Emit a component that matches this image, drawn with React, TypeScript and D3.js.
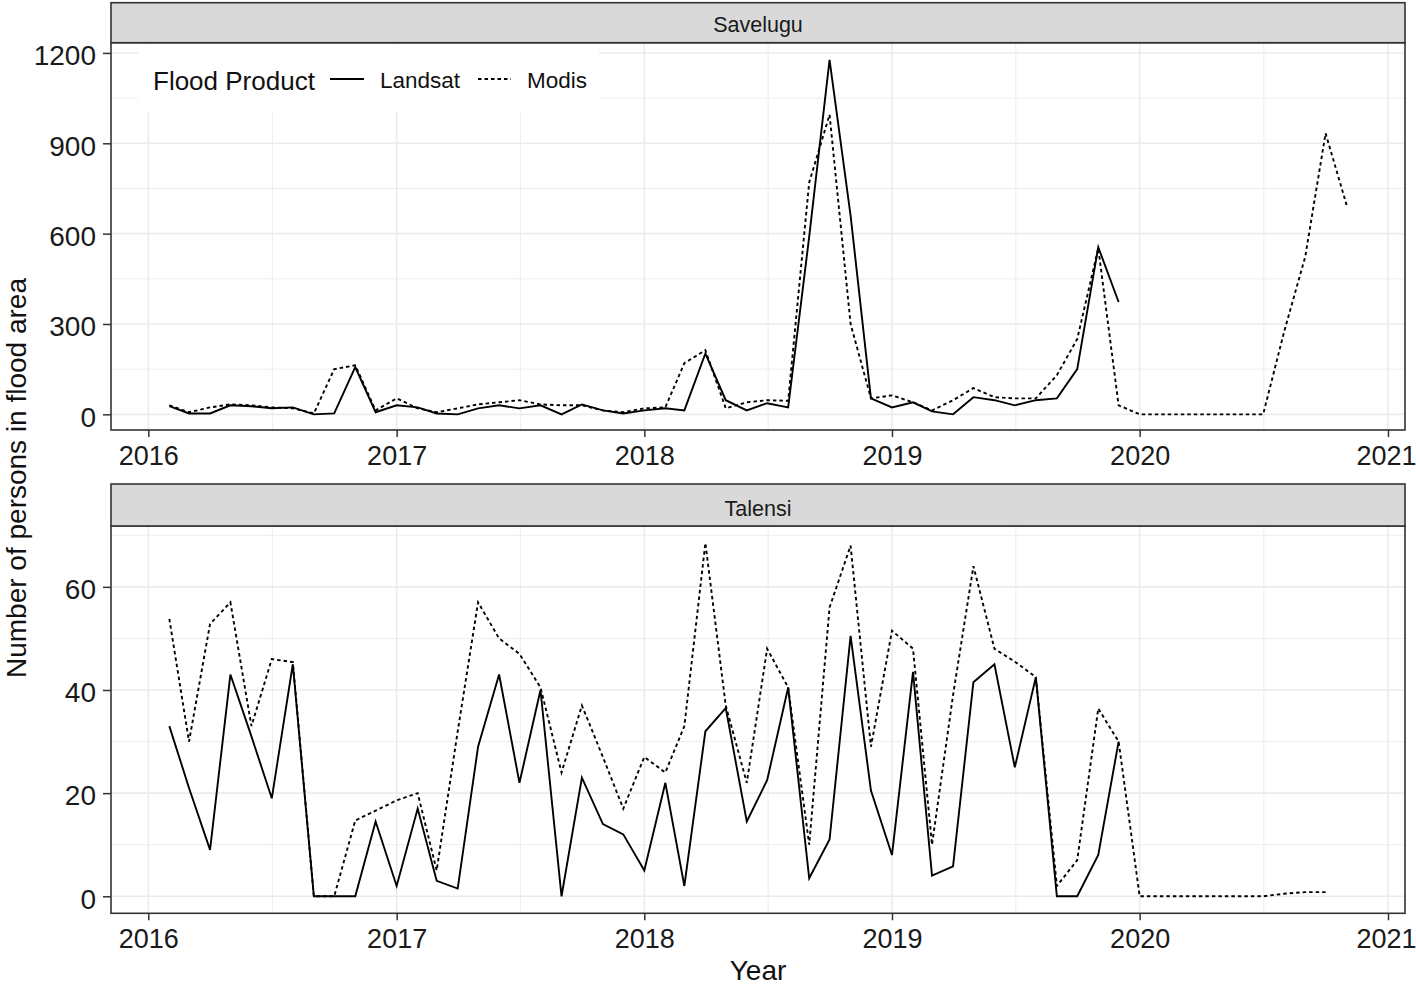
import React, { useEffect, useRef } from "react";
import * as d3 from "d3";

// eixo x (anos) e eixos y de cada painel
const anos = [2016, 2017, 2018, 2019, 2020, 2021];
const savTicks = [0, 300, 600, 900, 1200];
const savMinor = [150, 450, 750, 1050];
const talTicks = [0, 20, 40, 60];
const talMinor = [10, 30, 50, 70];

// valores mensais, a partir de fev/2016
const savLandsat = [
  27, 3, 3, 30, 27, 20, 23, 0, 3, 157, 7,
  30, 23, 3, 0, 20, 30, 20, 30, 0, 33, 13, 3,
  13, 20, 13, 202, 47, 13, 37, 23, 590, 1177, 660, 53,
  23, 40, 10, 0, 57, 47, 30, 47, 53, 150, 555, 373
];
const savModis = [
  30, 7, 23, 33, 30, 23, 20, 3, 150, 163, 13,
  53, 20, 7, 20, 33, 40, 47, 33, 30, 30, 13, 7,
  20, 23, 170, 213, 20, 40, 47, 45, 770, 995, 300, 53,
  63, 40, 13, 47, 87, 57, 53, 53, 130, 250, 552, 30,
  0, 0, 0, 0, 0, 0, 0, 275, 523, 933, 695
];
const talLandsat = [
  33, 21, 9, 43, 31, 19, 45, 0, 0, 0, 14.5,
  2, 17, 3, 1.5, 29, 43, 22, 40, 0, 23, 14, 12,
  5, 22, 2, 32, 36.5, 14.5, 22.5, 40.5, 3.5, 11, 50.5, 20.5,
  8, 43.5, 4, 5.8, 41.5, 45, 25, 42.5, 0, 0, 8, 30
];
const talModis = [
  53.8, 30, 52.8, 57, 33, 46, 45.4, 0, 0, 14.7, 16.6,
  18.6, 20, 5, 32, 57, 50, 47, 40.5, 24, 37, 27, 17,
  27, 24, 33, 68.5, 37, 22, 48, 40.5, 10, 56, 68, 29,
  51.5, 48, 10, 39, 64, 48, 45.5, 42.5, 2, 7, 36.4, 30,
  0, 0, 0, 0, 0, 0, 0, 0.5, 0.8, 0.8
];

const FONT = "'Liberation Sans', Arial, sans-serif";

function App() {
  const ref = useRef(null);

  useEffect(() => {
    const svg = d3.select(ref.current);
    svg.selectAll("*").remove();

    const left = 111;
    const right = 1405;
    const inicio = new Date(2016, 1, 1);

    const x = d3
      .scaleTime()
      .domain([new Date(2016, 0, 1), new Date(2021, 0, 1)])
      .range([148.3, 1388]);

    const serie = (vals) =>
      vals.map((v, i) => ({ d: d3.timeMonth.offset(inicio, i), v }));

    const paineis = [
      {
        nome: "Savelugu",
        stripTop: 2.7,
        stripBottom: 42.7,
        bottom: 430,
        domain: [-52, 1234],
        ticks: savTicks,
        minor: savMinor,
        landsat: savLandsat,
        modis: savModis
      },
      {
        nome: "Talensi",
        stripTop: 484,
        stripBottom: 526,
        bottom: 913.3,
        domain: [-3.3, 71.8],
        ticks: talTicks,
        minor: talMinor,
        landsat: talLandsat,
        modis: talModis
      }
    ];

    paineis.forEach(p => {
      const y = d3
        .scaleLinear()
        .domain(p.domain)
        .range([p.bottom, p.stripBottom]);

      const g = svg.append("g");

      // fundo
      g.append("rect")
        .attr("x", left)
        .attr("y", p.stripBottom)
        .attr("width", right - left)
        .attr("height", p.bottom - p.stripBottom)
        .attr("fill", "#fff");

      // grade menor
      const anoMeio = anos.slice(0, -1).map((a, i) => (x(new Date(a, 0, 1)) + x(new Date(anos[i + 1], 0, 1))) / 2);
      g.selectAll(".vminor")
        .data(anoMeio)
        .join("line")
        .attr("x1", d => d)
        .attr("x2", d => d)
        .attr("y1", p.stripBottom)
        .attr("y2", p.bottom)
        .attr("stroke", "#ebebeb")
        .attr("stroke-width", 0.9);
      g.selectAll(".hminor")
        .data(p.minor)
        .join("line")
        .attr("x1", left)
        .attr("x2", right)
        .attr("y1", d => y(d))
        .attr("y2", d => y(d))
        .attr("stroke", "#ebebeb")
        .attr("stroke-width", 0.9);

      // grade maior
      g.selectAll(".vmajor")
        .data(anos)
        .join("line")
        .attr("x1", d => x(new Date(d, 0, 1)))
        .attr("x2", d => x(new Date(d, 0, 1)))
        .attr("y1", p.stripBottom)
        .attr("y2", p.bottom)
        .attr("stroke", "#ebebeb")
        .attr("stroke-width", 1.6);
      g.selectAll(".hmajor")
        .data(p.ticks)
        .join("line")
        .attr("x1", left)
        .attr("x2", right)
        .attr("y1", d => y(d))
        .attr("y2", d => y(d))
        .attr("stroke", "#ebebeb")
        .attr("stroke-width", 1.6);

      // linhas
      const linha = d3
        .line()
        .x(d => x(d.d))
        .y(d => y(d.v));

      g.append("path")
        .datum(serie(p.modis))
        .attr("d", linha)
        .attr("fill", "none")
        .attr("stroke", "#000")
        .attr("stroke-width", 1.9)
        .attr("stroke-dasharray", "3.5,3");

      g.append("path")
        .datum(serie(p.landsat))
        .attr("d", linha)
        .attr("fill", "none")
        .attr("stroke", "#000")
        .attr("stroke-width", 1.9);

      // borda do painel
      g.append("rect")
        .attr("x", left)
        .attr("y", p.stripBottom)
        .attr("width", right - left)
        .attr("height", p.bottom - p.stripBottom)
        .attr("fill", "none")
        .attr("stroke", "#333")
        .attr("stroke-width", 1.6);

      // faixa
      g.append("rect")
        .attr("x", left)
        .attr("y", p.stripTop)
        .attr("width", right - left)
        .attr("height", p.stripBottom - p.stripTop)
        .attr("fill", "#d9d9d9")
        .attr("stroke", "#333")
        .attr("stroke-width", 1.6);
      g.append("text")
        .attr("x", (left + right) / 2)
        .attr("y", p.stripBottom - 10.5)
        .attr("text-anchor", "middle")
        .attr("font-family", FONT)
        .attr("font-size", 21.5)
        .attr("fill", "#1a1a1a")
        .text(p.nome);

      // eixo y
      const ay = g.append("g")
        .attr("transform", `translate(${left},0)`)
        .call(
          d3.axisLeft(y)
            .tickValues(p.ticks)
            .tickFormat(d3.format("d"))
            .tickSize(8)
            .tickPadding(7)
        );
      ay.select(".domain").remove();
      ay.selectAll("line").attr("stroke", "#333").attr("stroke-width", 1.5);
      ay.selectAll("text")
        .attr("font-family", FONT)
        .attr("font-size", 28)
        .attr("fill", "#1a1a1a")
        .attr("dy", "0.42em");

      // eixo x
      const ax = g.append("g")
        .attr("transform", `translate(0,${p.bottom})`)
        .call(
          d3.axisBottom(x)
            .tickValues(anos.map(a => new Date(a, 0, 1)))
            .tickFormat(d3.timeFormat("%Y"))
            .tickSize(7)
            .tickPadding(9)
        );
      ax.select(".domain").remove();
      ax.selectAll("line").attr("stroke", "#333").attr("stroke-width", 1.5);
      ax.selectAll("text")
        .attr("font-family", FONT)
        .attr("font-size", 27)
        .attr("fill", "#1a1a1a")
        .attr("dx", d => (d.getFullYear() === 2021 ? -2 : 0));
    });

    // legenda
    const leg = svg.append("g");
    leg.append("rect")
      .attr("x", 138)
      .attr("y", 44.5)
      .attr("width", 461)
      .attr("height", 67)
      .attr("fill", "#fff");
    leg.append("text")
      .attr("x", 153)
      .attr("y", 90)
      .attr("font-family", FONT)
      .attr("font-size", 26)
      .attr("fill", "#111")
      .text("Flood Product");
    const itens = [
      { nome: "Landsat", x1: 330, x2: 364, tx: 380, dash: null },
      { nome: "Modis", x1: 478, x2: 511, tx: 527, dash: "3.5,3" }
    ];
    itens.forEach(it => {
      leg.append("line")
        .attr("x1", it.x1)
        .attr("x2", it.x2)
        .attr("y1", 79)
        .attr("y2", 79)
        .attr("stroke", "#000")
        .attr("stroke-width", 1.9)
        .attr("stroke-dasharray", it.dash);
      leg.append("text")
        .attr("x", it.tx)
        .attr("y", 88.3)
        .attr("font-family", FONT)
        .attr("font-size", 22.5)
        .attr("fill", "#111")
        .text(it.nome);
    });

    // titulos dos eixos
    svg.append("text")
      .attr("x", (left + right) / 2)
      .attr("y", 980)
      .attr("text-anchor", "middle")
      .attr("font-family", FONT)
      .attr("font-size", 28)
      .attr("fill", "#111")
      .text("Year");
    svg.append("text")
      .attr("transform", "translate(26,478) rotate(-90)")
      .attr("text-anchor", "middle")
      .attr("font-family", FONT)
      .attr("font-size", 28)
      .attr("fill", "#111")
      .text("Number of persons in flood area");
  }, []);

  return (
    <svg
      ref={ref}
      width={1416}
      height={987}
      style={{ position: "absolute", left: 0, top: 0, background: "#fff" }}
    ></svg>
  );
}

export default App;
